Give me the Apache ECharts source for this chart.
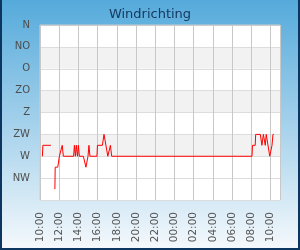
<!DOCTYPE html>
<html>
<head>
<meta charset="utf-8">
<script src="https://cdn.jsdelivr.net/npm/echarts@6/dist/echarts.min.js"></script>
<style>
html,body{margin:0;padding:0;}
#chart{width:300px;height:250px;}
</style>
</head>
<body>
<div id="chart"></div>
<script>
// Data
var startTime = '2024-05-01 10:00';
var times = [
  '2024-05-01 10:15','2024-05-01 10:18','2024-05-01 11:08','2024-05-01 11:20',
  '2024-05-01 11:33','2024-05-01 11:35','2024-05-01 11:51','2024-05-01 12:01',
  '2024-05-01 12:13','2024-05-01 12:19','2024-05-01 12:26','2024-05-01 13:30',
  '2024-05-01 13:35','2024-05-01 13:41','2024-05-01 13:47','2024-05-01 13:54',
  '2024-05-01 14:00','2024-05-01 14:06','2024-05-01 14:31','2024-05-01 14:47',
  '2024-05-01 15:00','2024-05-01 15:06','2024-05-01 15:12','2024-05-01 15:56',
  '2024-05-01 15:59','2024-05-01 16:30','2024-05-01 16:40','2024-05-01 16:47',
  '2024-05-01 17:04','2024-05-01 17:20','2024-05-01 17:28',
  '2024-05-02 08:05','2024-05-02 08:08','2024-05-02 08:25','2024-05-02 08:28',
  '2024-05-02 08:57','2024-05-02 09:07','2024-05-02 09:16','2024-05-02 09:24',
  '2024-05-02 09:28','2024-05-02 09:34','2024-05-02 09:41','2024-05-02 09:56',
  '2024-05-02 10:10','2024-05-02 10:16','2024-05-02 10:21'
];
var directions = [
  270,247.5,247.5,null,
  337.5,292.5,292.5,270,
  270,247.5,270,270,
  247.5,270,247.5,270,
  247.5,270,270,292.5,
  270,247.5,270,270,
  247.5,247.5,225,225,
  270,247.5,270,
  270,247.5,247.5,225,
  225,247.5,225,225,
  247.5,225,225,270,
  247.5,225,225
];
var dirLabels = ['N','NO','O','ZO','Z','ZW','W','NW',''];

function parseT(s){
  var p = s.split(/[- :]/).map(Number);
  return new Date(p[0], p[1]-1, p[2], p[3], p[4]).getTime();
}
var t0 = parseT(startTime);
var seriesData = times.map(function(t,i){
  return [(parseT(t)-t0)/3600000, directions[i]];
});
function pad(n){return (n<10?'0':'')+n;}

var chart = echarts.init(document.getElementById('chart'), null, {renderer:'canvas'});
chart.setOption({
  animation:false,
  backgroundColor:{type:'linear',x:0,y:0,x2:0,y2:1,colorStops:[{offset:0,color:'#55aadb'},{offset:1,color:'#f5f9fc'}]},
  title:{text:'Windrichting',left:'center',top:3,textStyle:{fontFamily:'DejaVu Sans',fontSize:13,fontWeight:'normal',color:'#163a60'}},
  graphic:[{type:'polyline',shape:{points:[[1,0],[1,249],[299,249],[299,0]]},style:{stroke:'#0c3560',lineWidth:2,fill:null},silent:true}],
  grid:{left:40,right:20,top:25,bottom:50,show:true,backgroundColor:'#ffffff',borderColor:'#cccccc',borderWidth:1},
  xAxis:{
    type:'value',min:0,max:25,interval:2,
    axisLine:{show:true,lineStyle:{color:'#cccccc'}},
    axisTick:{show:false},
    splitLine:{show:true,lineStyle:{color:'#c8c8c8',width:1}},
    axisLabel:{rotate:90,margin:12,showMaxLabel:false,fontFamily:'DejaVu Sans',fontSize:10.5,color:'#555555',
      formatter:function(v){ if(v>24.5) return ''; return pad((10+Math.round(v))%24)+':00';}}
  },
  yAxis:{
    type:'value',min:0,max:360,interval:45,inverse:true,
    axisLine:{show:false},axisTick:{show:false},
    splitLine:{show:true,lineStyle:{color:'#dddddd',width:1}},
    splitArea:{show:true,areaStyle:{color:['#ffffff','#f2f2f2','#ffffff','#f2f2f2','#ffffff','#f2f2f2','#ffffff','#ffffff']}},
    axisLabel:{margin:10,fontFamily:'DejaVu Sans',fontSize:10,color:'#4d4d4d',
      formatter:function(v){return dirLabels[Math.round(v/45)]||'';}}
  },
  series:[{type:'line',data:seriesData,symbol:'none',connectNulls:false,
    lineStyle:{color:'#ff0000',width:1}}]
});
</script>
</body>
</html>
